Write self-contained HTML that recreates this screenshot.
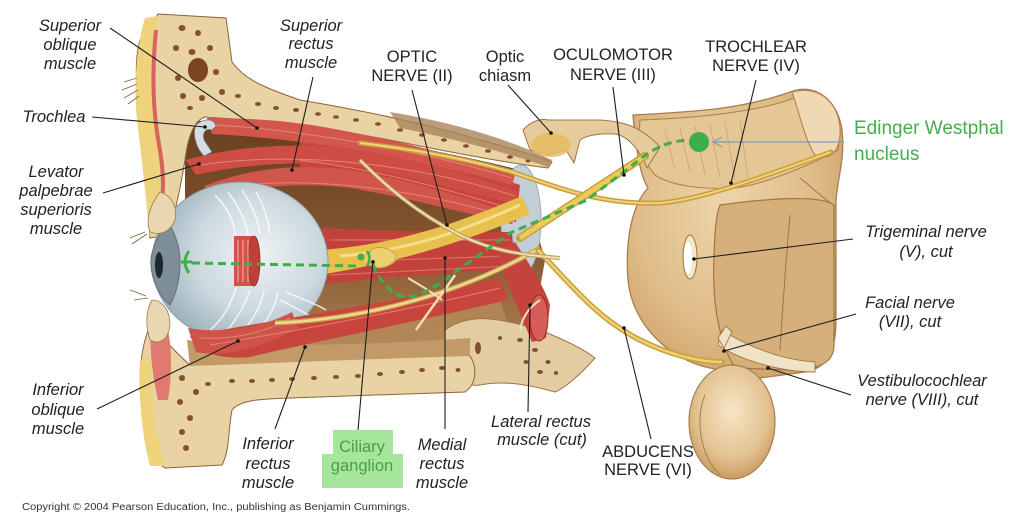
<!DOCTYPE html>
<html><head><meta charset="utf-8">
<style>
html,body{margin:0;padding:0;background:#fff;}
svg{display:block;}
.l{font-family:"Liberation Sans",Arial,sans-serif;font-style:italic;font-size:16.5px;fill:#222;text-anchor:middle;}
.u{font-family:"Liberation Sans",Arial,sans-serif;font-size:16.5px;fill:#222;text-anchor:middle;}
.ld{stroke:#1e1e1e;stroke-width:1.1;fill:none;}
.sp{fill:#84502a;}
</style></head><body>
<svg width="1023" height="524" viewBox="0 0 1023 524" xmlns="http://www.w3.org/2000/svg">
<defs>
<radialGradient id="bs" cx="0.45" cy="0.4" r="0.7">
<stop offset="0" stop-color="#eed5aa"/><stop offset="0.6" stop-color="#dfbc88"/><stop offset="1" stop-color="#c99d64"/>
</radialGradient>
<radialGradient id="bs2" cx="0.5" cy="0.4" r="0.6">
<stop offset="0" stop-color="#f6e6c6"/><stop offset="0.7" stop-color="#e3c290"/><stop offset="1" stop-color="#c99c63"/>
</radialGradient>
<radialGradient id="eye" cx="0.6" cy="0.45" r="0.6">
<stop offset="0" stop-color="#eef3f5"/><stop offset="0.6" stop-color="#ccd9df"/><stop offset="1" stop-color="#9fb2bc"/>
</radialGradient>
<linearGradient id="cav" x1="0" y1="0" x2="0" y2="1">
<stop offset="0" stop-color="#673e1f"/><stop offset="0.5" stop-color="#845630"/><stop offset="1" stop-color="#b58a59"/>
</linearGradient>
</defs>
<rect width="1023" height="524" fill="#fff"/>

<!-- Brainstem -->
<path d="M633,115 C690,112 740,110 790,92 C815,82 838,100 842,130 C845,160 838,175 836,200 L836,320 C836,350 828,368 805,372 L760,378 L710,368 C670,360 632,325 628,280 C625,240 632,205 648,188 C640,175 636,150 633,115 Z" fill="url(#bs)" stroke="#a97c4c" stroke-width="1.3"/>
<path d="M640,120 C700,118 760,112 800,96 C830,95 842,120 838,150 C800,170 760,185 735,188 C700,190 670,185 655,175 C642,160 638,140 640,120 Z" fill="#e5c796" stroke="#b08250" stroke-width="1.1"/>
<path d="M792,92 C820,84 842,105 840,135 C838,155 828,160 815,155 C805,140 800,115 792,92 Z" fill="#efd9b2" stroke="#b08250" stroke-width="1.1"/>
<path d="M720,205 C770,198 820,195 834,205 L834,345 C834,362 820,370 790,370 L735,368 C718,340 712,300 714,255 C715,230 716,215 720,205 Z" fill="#d6b07a" stroke="#a07446" stroke-width="1.2"/>
<path d="M790,215 C785,270 782,320 780,350" stroke="#a07446" stroke-width="1" fill="none"/>
<path d="M800,178 C815,190 825,200 834,205" stroke="#a07446" stroke-width="1" fill="none"/>
<g stroke="#c49a64" stroke-width="0.8" fill="none" opacity="0.8">
<path d="M665,130 L675,170"/><path d="M680,128 L690,172"/><path d="M695,126 L705,175"/><path d="M710,124 L720,178"/><path d="M725,122 L735,180"/><path d="M740,120 L748,178"/>
</g>
<ellipse cx="690" cy="257" rx="7" ry="22" fill="#f4e6cc" stroke="#a07446" stroke-width="1"/>
<ellipse cx="688" cy="258" rx="4" ry="16" fill="#fff"/>
<ellipse cx="732" cy="422" rx="43" ry="57" fill="url(#bs2)" stroke="#a97c4c" stroke-width="1.2"/>
<path d="M705,395 C695,420 700,455 720,475" stroke="#a97c4c" stroke-width="1" fill="none"/>
<path d="M722,330 C745,345 780,360 815,362 L815,372 C780,372 740,360 718,345 Z" fill="#f0e2c4" stroke="#a07446" stroke-width="0.9"/>
<path d="M718,338 L726,326 L732,332 L724,348 Z" fill="#f0e2c4" stroke="#a07446" stroke-width="0.9"/>

<!-- hypothalamus / chiasm -->
<path d="M523,130 C530,122 540,118 548,120 L600,120 C620,121 640,125 660,147 L647,168 C640,150 628,136 615,134 C598,133 585,136 580,140 L574,163 L566,150 L548,155 L530,150 Z" fill="#e6cb9c" stroke="#a07446" stroke-width="1"/>
<ellipse cx="551" cy="145" rx="20" ry="12" fill="#e3bd5e" opacity="0.85"/>

<!-- orbital cavity -->
<path d="M185,120 C280,125 400,140 520,170 L545,260 L530,345 L460,365 L300,372 L200,365 L185,300 Z" fill="url(#cav)"/>
<path d="M300,330 L500,300 L520,360 L300,368 Z" fill="#b58a58" opacity="0.8"/>

<!-- sphenoid patch -->
<path d="M445,330 C470,312 500,318 540,330 C565,340 585,350 595,358 C580,375 565,388 555,392 C530,385 505,380 480,385 C460,388 448,370 445,350 Z" fill="#e4cca2" stroke="#a07246" stroke-width="1"/>
<g class="sp"><ellipse cx="520" cy="340" rx="3" ry="2"/><ellipse cx="535" cy="350" rx="3" ry="2"/><ellipse cx="548" cy="362" rx="2.5" ry="2"/><ellipse cx="526" cy="362" rx="2.5" ry="2"/><ellipse cx="540" cy="372" rx="3" ry="2"/><ellipse cx="556" cy="373" rx="2" ry="2"/><ellipse cx="478" cy="348" rx="3" ry="6"/><ellipse cx="500" cy="338" rx="2" ry="2"/></g>

<!-- upper bone -->
<path d="M158,14 L226,18 L232,62 C245,80 265,88 300,100 C360,110 420,122 480,140 C510,148 535,155 552,162 L548,168 C500,162 440,150 400,142 C350,132 300,125 260,121 L205,117 C195,120 188,135 185,160 C180,190 175,215 168,235 L150,238 C148,200 144,160 140,120 C136,90 134,60 140,40 Z" fill="#e9d2a4" stroke="#8c6438" stroke-width="1"/>
<path d="M390,112 C440,120 500,135 552,160 L548,167 C505,152 450,138 400,128 Z" fill="#a9855a" opacity="0.8"/>
<path d="M145,18 L158,16 C152,60 150,100 158,140 C162,170 160,200 160,230 L150,236 C146,200 142,160 137,120 C133,80 138,40 145,18 Z" fill="#efd27c"/>
<path d="M156,30 C152,70 152,110 160,150 C163,170 164,185 162,200" stroke="#d8625c" stroke-width="4" fill="none"/>
<path d="M137,78 L124,82 M137,84 L122,90 M138,90 L124,98 M139,96 L128,104" stroke="#8a6a44" stroke-width="0.9"/>
<g class="sp">
<ellipse cx="182" cy="28" rx="3.5" ry="3"/><ellipse cx="198" cy="33" rx="3" ry="3"/><ellipse cx="176" cy="48" rx="3" ry="3"/><ellipse cx="192" cy="52" rx="3.5" ry="3"/><ellipse cx="210" cy="48" rx="3" ry="3"/><ellipse cx="198" cy="70" rx="10" ry="12" fill="#7a4520"/><ellipse cx="178" cy="78" rx="3" ry="3"/><ellipse cx="216" cy="72" rx="3" ry="3"/><ellipse cx="183" cy="96" rx="3" ry="3"/><ellipse cx="202" cy="98" rx="3" ry="3"/><ellipse cx="222" cy="92" rx="3" ry="3"/><ellipse cx="238" cy="96" rx="3" ry="2"/><ellipse cx="190" cy="108" rx="3" ry="2"/>
<ellipse cx="258" cy="104" rx="3" ry="2"/><ellipse cx="276" cy="108" rx="3" ry="2"/><ellipse cx="296" cy="110" rx="3" ry="2"/><ellipse cx="318" cy="114" rx="3" ry="1.8"/><ellipse cx="336" cy="117" rx="3" ry="1.8"/><ellipse cx="356" cy="120" rx="3" ry="1.8"/><ellipse cx="378" cy="124" rx="3" ry="1.8"/><ellipse cx="400" cy="130" rx="3" ry="1.8"/><ellipse cx="422" cy="135" rx="3" ry="1.8"/><ellipse cx="444" cy="140" rx="3" ry="1.8"/><ellipse cx="466" cy="146" rx="3" ry="1.8"/><ellipse cx="488" cy="151" rx="3" ry="1.8"/><ellipse cx="510" cy="157" rx="3" ry="1.8"/><ellipse cx="528" cy="161" rx="2.5" ry="1.5"/>
</g>

<!-- lower bone -->
<path d="M150,325 C165,340 178,355 190,365 C240,362 320,360 400,356 C430,354 455,352 470,356 C478,368 476,385 465,392 C420,393 350,396 290,398 C260,399 240,400 232,410 C228,430 230,450 222,465 L165,468 C152,460 146,440 142,410 C138,380 140,350 150,325 Z" fill="#e9d2a4" stroke="#8c6438" stroke-width="1"/>
<path d="M140,360 L152,356 C150,400 156,440 166,466 L150,466 C143,440 138,400 140,360 Z" fill="#efd27c"/>
<path d="M150,322 L168,330 C172,350 172,375 168,400 L158,400 C152,375 150,350 150,322 Z" fill="#e07a6f"/>
<path d="M187,340 C250,348 380,345 470,338 L470,356 C400,358 300,362 190,366 Z" fill="#c29a68"/>
<g class="sp">
<ellipse cx="182" cy="378" rx="3" ry="3"/><ellipse cx="196" cy="392" rx="3" ry="3"/><ellipse cx="180" cy="402" rx="3" ry="3"/><ellipse cx="190" cy="418" rx="3" ry="3"/><ellipse cx="182" cy="432" rx="3" ry="3"/><ellipse cx="186" cy="448" rx="3" ry="3"/><ellipse cx="208" cy="384" rx="3" ry="2"/>
<ellipse cx="232" cy="381" rx="3" ry="2"/><ellipse cx="252" cy="381" rx="3" ry="2"/><ellipse cx="272" cy="380" rx="3" ry="2"/><ellipse cx="292" cy="379" rx="3" ry="2"/><ellipse cx="314" cy="378" rx="3" ry="2"/><ellipse cx="336" cy="377" rx="3" ry="2"/><ellipse cx="358" cy="376" rx="3" ry="2"/><ellipse cx="380" cy="374" rx="3" ry="2"/><ellipse cx="402" cy="372" rx="3" ry="2"/><ellipse cx="422" cy="370" rx="3" ry="2"/><ellipse cx="442" cy="368" rx="3" ry="2"/><ellipse cx="458" cy="370" rx="2.5" ry="2"/>
</g>

<!-- annulus -->
<ellipse cx="521" cy="220" rx="20" ry="55" fill="#c2cfd7" stroke="#9aaab4" stroke-width="1"/>

<!-- medial rectus block -->
<path d="M322,228 C400,232 460,232 512,232 L515,270 C460,272 400,276 325,284 Z" fill="#c2423b"/>
<g stroke="#e0857a" stroke-width="1.2" opacity="0.7"><path d="M330,240 L510,240"/><path d="M330,262 L510,256"/><path d="M330,275 L510,266"/></g>

<!-- lateral rectus cut -->
<path d="M497,250 L515,242 C530,265 545,288 550,305 L546,338 L532,342 C520,312 505,282 497,250 Z" fill="#c4433c"/>
<ellipse cx="539" cy="318" rx="9" ry="23" fill="#d65e58" stroke="#9c2e2a" stroke-width="1"/>

<!-- superior muscles -->
<path d="M300,130 C380,140 450,160 520,185 L516,222 C450,205 380,185 300,178 Z" fill="#c8453d"/>
<path d="M207,118 C260,118 300,122 340,130 C420,145 470,160 515,175 L512,185 C460,170 400,158 330,146 C290,140 250,136 212,134 Z" fill="#d2564c"/>
<path d="M186,160 C240,145 300,142 360,150 C420,160 470,175 518,192 L515,204 C460,190 410,176 355,166 C300,160 240,165 196,175 Z" fill="#cd4d44"/>
<path d="M204,186 C250,168 300,163 350,170 C420,182 470,200 516,214 L512,224 C460,212 410,198 350,188 C300,182 250,186 214,198 Z" fill="#d0554b"/>
<g stroke="#ee9a8c" stroke-width="1" fill="none" opacity="0.7">
<path d="M215,125 C300,130 420,150 512,178"/><path d="M200,165 C300,150 420,165 515,196"/><path d="M212,190 C300,172 420,190 512,218"/><path d="M300,160 C380,170 450,190 515,210"/>
</g>

<!-- optic nerve -->
<path d="M322,250 C400,244 460,222 522,196 L530,214 C470,240 400,262 325,274 Z" fill="#e8c04e"/>
<path d="M340,256 C410,250 460,232 520,205" stroke="#f6de8a" stroke-width="3" fill="none"/>
<ellipse cx="380" cy="257" rx="17" ry="10" fill="#ecc95c"/>

<!-- trochlea -->
<path d="M196,125 C204,118 214,118 216,126 L212,130 C206,128 202,132 204,140 L212,152 L204,156 C196,148 192,134 196,125 Z" fill="#d4dde2" stroke="#6d7a80" stroke-width="0.8"/>

<!-- eye -->
<ellipse cx="240" cy="262" rx="88" ry="80" fill="url(#eye)" stroke="#8a9ba4" stroke-width="1"/>
<g stroke="#ffffff" stroke-width="1.6" fill="none" opacity="0.75">
<path d="M215,195 C230,210 235,225 236,240"/><path d="M228,192 C240,208 246,222 248,236"/><path d="M242,190 C252,205 258,220 260,234"/><path d="M256,192 C264,206 268,220 270,234"/>
<path d="M210,330 C225,318 232,300 236,288"/><path d="M226,332 C238,318 246,302 250,290"/><path d="M244,330 C256,316 262,302 264,290"/><path d="M262,326 C272,314 276,302 278,292"/>
<path d="M280,300 C300,310 315,318 322,325"/><path d="M286,292 C305,300 318,305 326,310"/>
</g>
<path d="M168,222 C155,238 150,255 151,265 C152,280 158,295 170,305 C178,290 180,275 180,262 C180,248 176,235 168,222 Z" fill="#7d8e99" stroke="#5f707b" stroke-width="1"/>
<ellipse cx="159" cy="265" rx="4" ry="13" fill="#1d2830"/>
<path d="M234,236 L254,236 C260,245 260,278 254,286 L234,286 Z" fill="#d45048"/>
<ellipse cx="254" cy="261" rx="6" ry="25" fill="#c23f38" stroke="#8f2e2a" stroke-width="0.8"/>
<g stroke="#f7d0cc" stroke-width="0.8"><path d="M238,240 L238,282"/><path d="M243,240 L243,282"/><path d="M248,240 L248,282"/></g>

<!-- eyelids -->
<path d="M160,192 C170,195 178,205 175,220 C170,232 160,236 150,232 C145,220 150,205 160,192 Z" fill="#e9d7b0" stroke="#9c7a50" stroke-width="0.8"/>
<path d="M152,300 C162,300 170,310 170,325 C168,340 160,345 150,340 C145,325 146,310 152,300 Z" fill="#e9d7b0" stroke="#9c7a50" stroke-width="0.8"/>
<path d="M145,232 L130,238 M147,234 L132,244 M146,296 L130,290 M148,298 L134,300" stroke="#7a5a3a" stroke-width="0.8"/>

<!-- inferior muscles -->
<path d="M190,336 C260,322 380,305 500,278 L508,300 C400,325 300,345 250,357 C220,360 196,352 190,336 Z" fill="#c8453d"/>
<path d="M188,328 C220,334 262,328 292,312 L298,328 C262,348 222,358 196,352 Z" fill="#d0534a"/>
<g stroke="#ee9a8c" stroke-width="1" fill="none" opacity="0.7"><path d="M210,345 C300,330 400,312 500,288"/><path d="M200,338 C240,340 270,330 290,318"/></g>

<!-- nerves -->
<path d="M360,143 C420,150 470,160 512,172 C560,188 600,205 660,203 C700,200 760,178 831,152" stroke="#c99e3c" stroke-width="5" fill="none" stroke-linecap="round"/>
<path d="M360,143 C420,150 470,160 512,172 C560,188 600,205 660,203 C700,200 760,178 831,152" stroke="#f0d478" stroke-width="2" fill="none"/>
<path d="M520,238 L645,156" stroke="#c99e3c" stroke-width="8" stroke-linecap="round"/>
<path d="M520,238 L645,156" stroke="#ecca5c" stroke-width="5"/>
<path d="M275,323 C350,320 450,300 540,248" stroke="#c9a450" stroke-width="5" fill="none"/>
<path d="M275,323 C350,320 450,300 540,248" stroke="#f0d890" stroke-width="2.5" fill="none"/>
<path d="M538,250 C575,290 600,320 640,340 C670,355 700,362 722,362" stroke="#c99e3c" stroke-width="5.5" fill="none" stroke-linecap="round"/>
<path d="M538,250 C575,290 600,320 640,340 C670,355 700,362 722,362" stroke="#f0d070" stroke-width="2.5" fill="none"/>
<path d="M360,160 C385,185 415,212 460,235 C490,250 520,255 560,258" stroke="#b99a5c" stroke-width="4" fill="none"/>
<path d="M360,160 C385,185 415,212 460,235 C490,250 520,255 560,258" stroke="#f2e0ae" stroke-width="2" fill="none"/>
<path d="M416,330 C430,310 445,290 455,275" stroke="#f2e0ae" stroke-width="2.5" fill="none"/>
<path d="M408,278 C420,285 432,292 442,300" stroke="#f2e0ae" stroke-width="2" fill="none"/>
<path d="M520,330 C522,318 528,308 540,300" stroke="#f2e0ae" stroke-width="2" fill="none"/>
<path d="M371,250 C378,245 390,248 396,255 C396,262 388,268 378,268 C370,266 366,258 371,250 Z" fill="#eed070" stroke="#b8963e" stroke-width="0.8"/>

<!-- green pathway -->
<path d="M192,263 L357,266" stroke="#3daf4a" stroke-width="3" stroke-dasharray="8,5" fill="none"/>
<path d="M189,251 Q181,262 189,273 M181,262 L192,262" stroke="#3daf4a" stroke-width="3" fill="none"/>
<circle cx="361" cy="257" r="3.5" fill="#3daf4a"/>
<path d="M367,251 Q372,258 367,266" stroke="#3daf4a" stroke-width="2.5" fill="none"/>
<path d="M373,264 C378,278 390,296 407,297 C420,297 428,290 440,283 L510,233 L587,200 L643,157 C655,148 668,141 690,140" stroke="#3daf4a" stroke-width="3" stroke-dasharray="8,5" fill="none"/>
<circle cx="699" cy="142" r="10" fill="#3daf4a"/>

<!-- arrow -->
<path d="M844,142 L714,142" stroke="#7f9cb6" stroke-width="1.2"/>
<path d="M722,137 L713,142 L722,147" stroke="#7f9cb6" stroke-width="1.2" fill="none"/>

<!-- leader lines -->
<g class="ld">
<path d="M110,28 L257,128"/><path d="M92,117 L205,127"/><path d="M103,193 L199,164"/><path d="M313,77 L292,170"/>
<path d="M412,90 L447,225"/><path d="M508,85 L551,133"/><path d="M613,87 L624,175"/><path d="M756,80 L731,183"/>
<path d="M853,239 L694,259"/><path d="M856,314 L724,351"/><path d="M851,395 L768,368"/><path d="M651,439 L624,328"/>
<path d="M528,412 L530,305"/><path d="M445,429 L445,258"/><path d="M358,430 L373,260"/><path d="M275,429 L305,347"/><path d="M97,409 L238,341"/>
</g>
<g fill="#111">
<circle cx="257" cy="128" r="1.8"/><circle cx="205" cy="127" r="1.8"/><circle cx="199" cy="164" r="1.8"/><circle cx="292" cy="170" r="1.8"/><circle cx="447" cy="225" r="1.8"/><circle cx="551" cy="133" r="1.8"/><circle cx="624" cy="175" r="1.8"/><circle cx="731" cy="183" r="1.8"/><circle cx="694" cy="259" r="1.8"/><circle cx="724" cy="351" r="1.8"/><circle cx="768" cy="368" r="1.8"/><circle cx="624" cy="328" r="1.8"/><circle cx="530" cy="305" r="1.8"/><circle cx="445" cy="258" r="1.8"/><circle cx="373" cy="262" r="1.8"/><circle cx="305" cy="347" r="1.8"/><circle cx="238" cy="341" r="1.8"/>
</g>

<!-- labels -->
<text class="l" x="70" y="31">Superior</text><text class="l" x="70" y="50">oblique</text><text class="l" x="70" y="69">muscle</text>
<text class="l" x="54" y="122">Trochlea</text>
<text class="l" x="56" y="177">Levator</text><text class="l" x="56" y="196">palpebrae</text><text class="l" x="56" y="215">superioris</text><text class="l" x="56" y="234">muscle</text>
<text class="l" x="311" y="31">Superior</text><text class="l" x="311" y="49">rectus</text><text class="l" x="311" y="68">muscle</text>
<text class="u" x="412" y="62">OPTIC</text><text class="u" x="412" y="81">NERVE (II)</text>
<text class="u" x="505" y="62">Optic</text><text class="u" x="505" y="81">chiasm</text>
<text class="u" x="613" y="60" font-size="17">OCULOMOTOR</text><text class="u" x="613" y="80">NERVE (III)</text>
<text class="u" x="756" y="52">TROCHLEAR</text><text class="u" x="756" y="71">NERVE (IV)</text>
<text x="854" y="134" font-family="'Liberation Sans',Arial,sans-serif" font-size="19" fill="#46ad4e">Edinger Westphal</text>
<text x="854" y="160" font-family="'Liberation Sans',Arial,sans-serif" font-size="19" fill="#46ad4e">nucleus</text>
<text class="l" x="926" y="237">Trigeminal nerve</text><text class="l" x="926" y="257">(V), cut</text>
<text class="l" x="910" y="308">Facial nerve</text><text class="l" x="910" y="327">(VII), cut</text>
<text class="l" x="922" y="386">Vestibulocochlear</text><text class="l" x="922" y="405">nerve (VIII), cut</text>
<text class="u" x="648" y="457">ABDUCENS</text><text class="u" x="648" y="475">NERVE  (VI)</text>
<text class="l" x="541" y="427">Lateral rectus</text><text class="l" x="542" y="445">muscle (cut)</text>
<text class="l" x="442" y="450">Medial</text><text class="l" x="442" y="469">rectus</text><text class="l" x="442" y="488">muscle</text>
<rect x="333" y="430" width="60" height="25" fill="#a6e69c"/><rect x="322" y="454" width="81" height="34" fill="#a6e69c"/>
<text x="362" y="452" font-family="'Liberation Sans',Arial,sans-serif" font-size="16.5" fill="#4a9e45" text-anchor="middle">Ciliary</text>
<text x="362" y="471" font-family="'Liberation Sans',Arial,sans-serif" font-size="16.5" fill="#4a9e45" text-anchor="middle">ganglion</text>
<text class="l" x="268" y="449">Inferior</text><text class="l" x="268" y="469">rectus</text><text class="l" x="268" y="488">muscle</text>
<text class="l" x="58" y="395">Inferior</text><text class="l" x="58" y="415">oblique</text><text class="l" x="58" y="434">muscle</text>
<text x="22" y="510" font-family="'Liberation Sans',Arial,sans-serif" font-size="10" fill="#333" textLength="388" lengthAdjust="spacingAndGlyphs">Copyright © 2004 Pearson Education, Inc., publishing as Benjamin Cummings.</text>
</svg>
</body></html>
